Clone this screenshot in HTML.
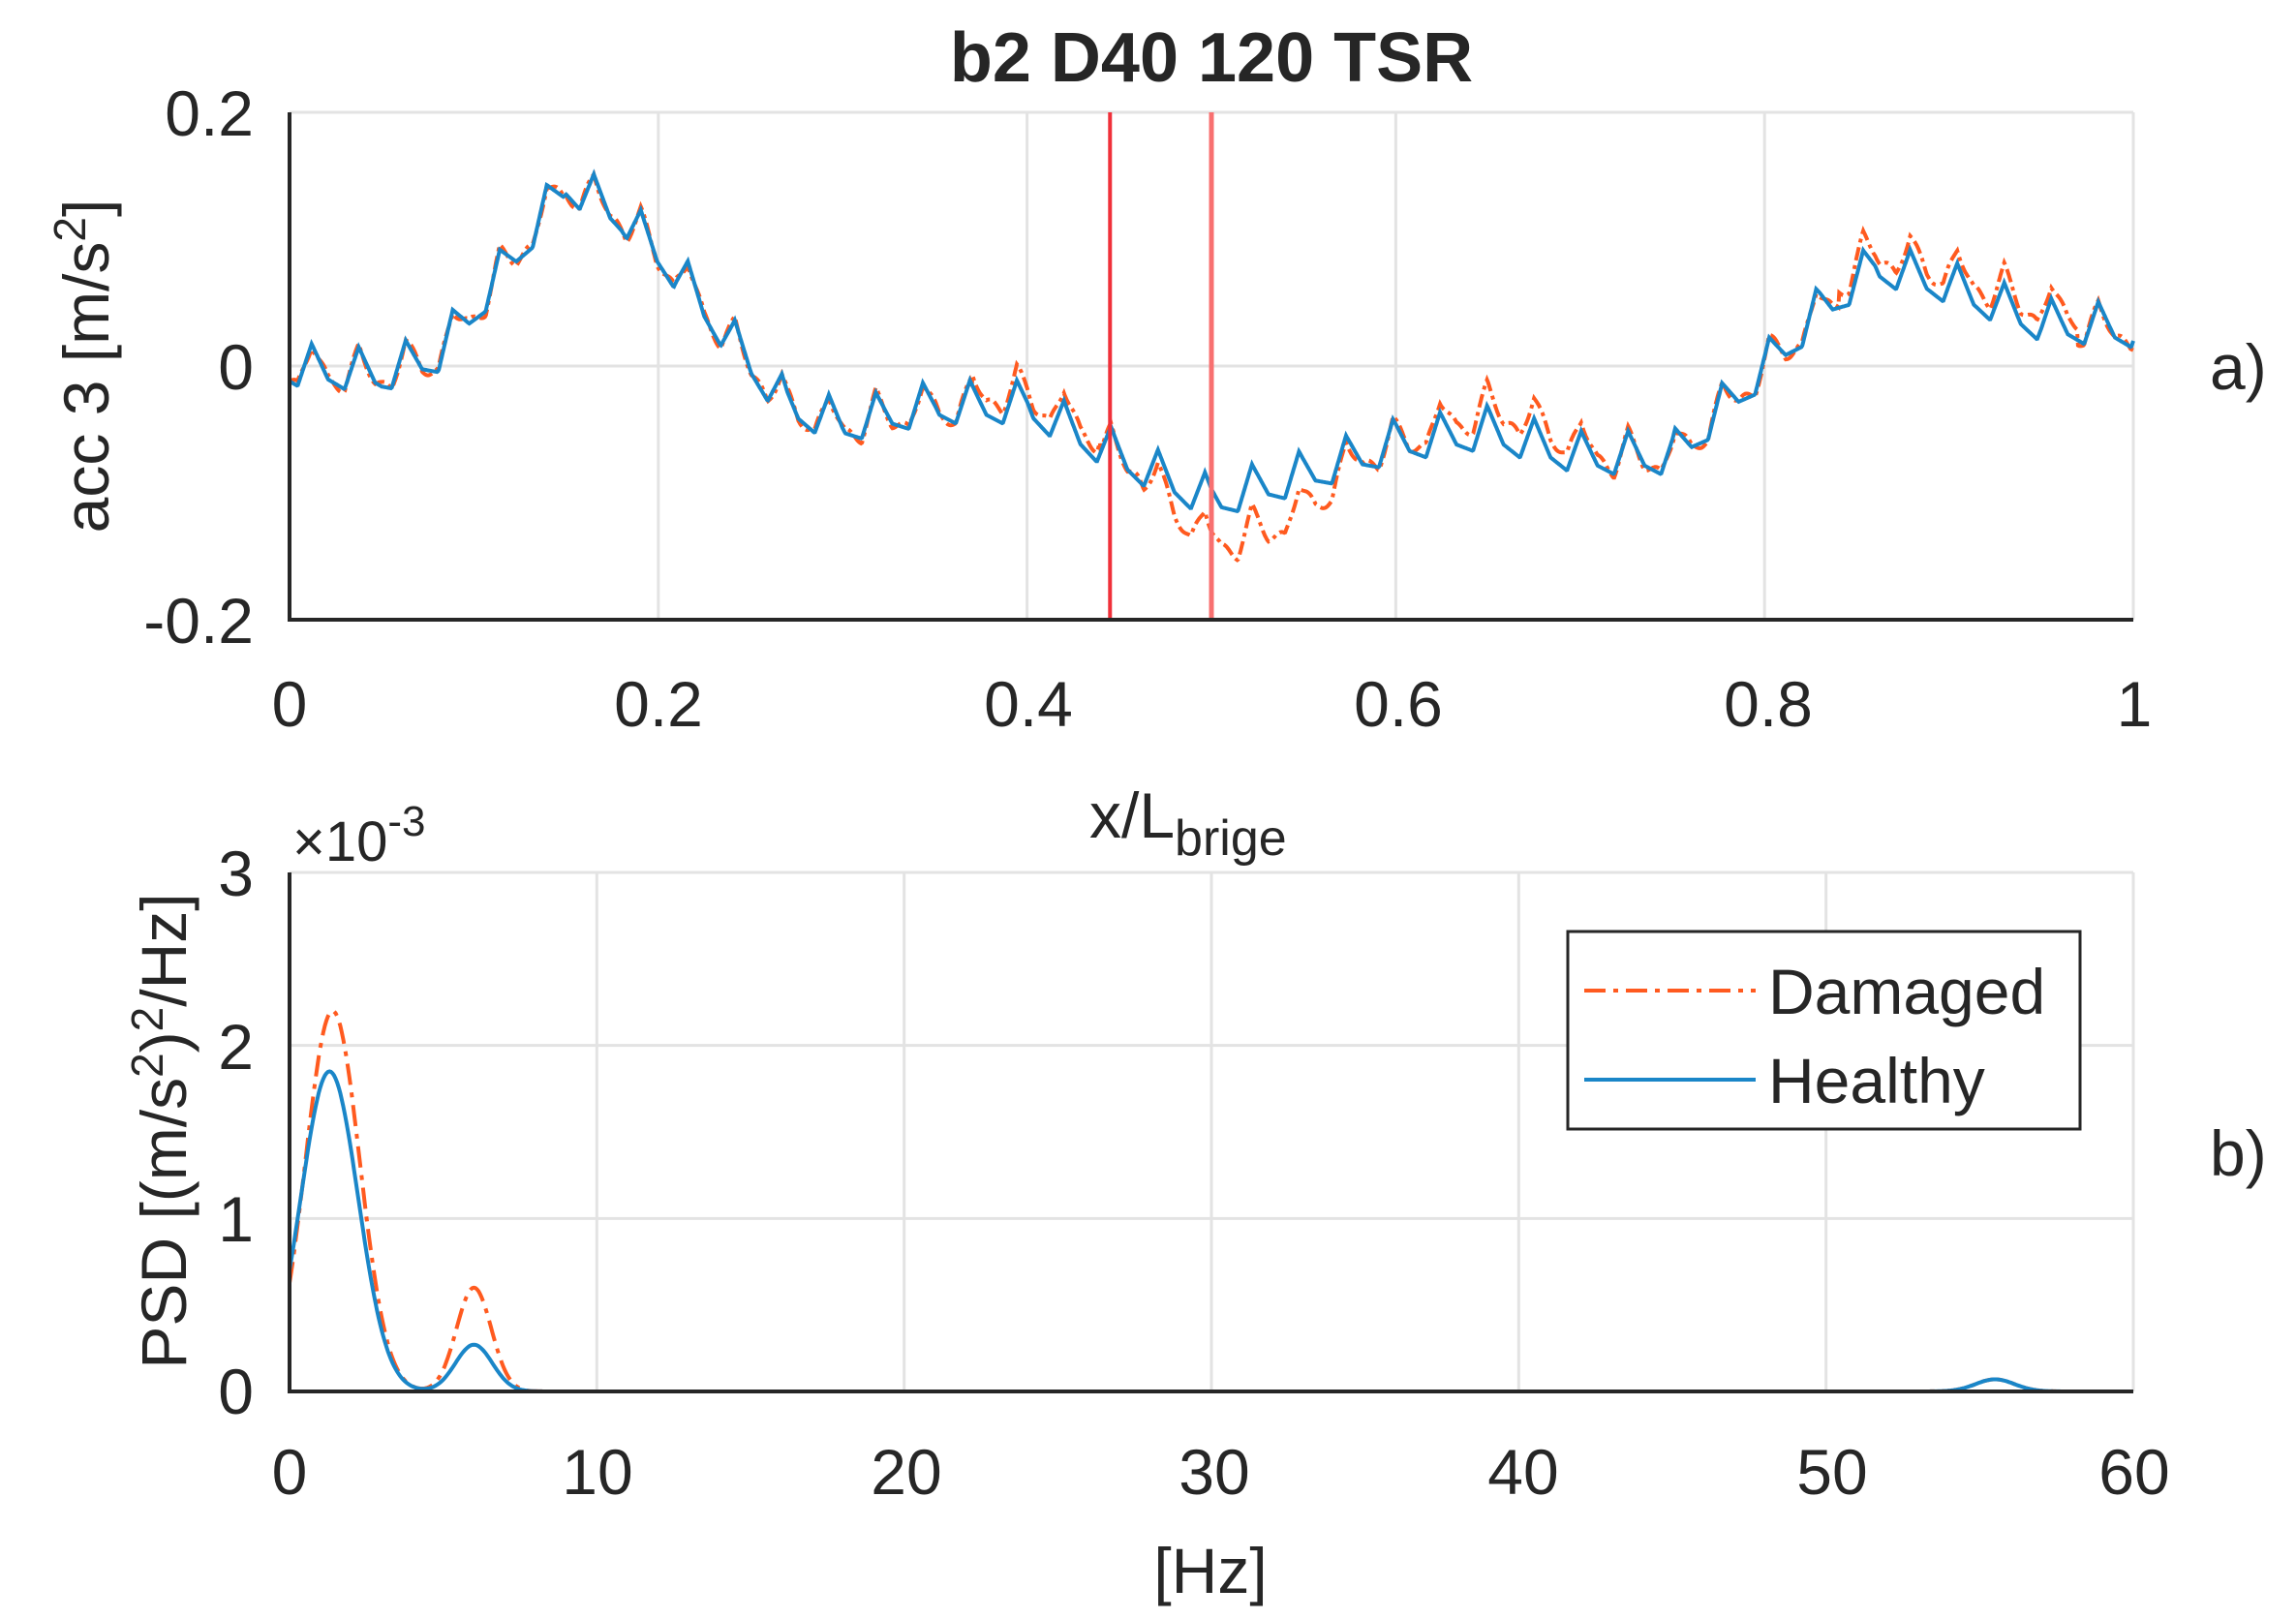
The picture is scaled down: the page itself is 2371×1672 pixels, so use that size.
<!DOCTYPE html>
<html><head><meta charset="utf-8"><style>
html,body{margin:0;padding:0;background:#fff;}
svg{display:block;}
text{font-family:"Liberation Sans",Arial,sans-serif;fill:#262626;}
</style></head><body>
<svg id="s" width="2371" height="1672" viewBox="0 0 2371 1672" xmlns="http://www.w3.org/2000/svg">
<rect width="2371" height="1672" fill="#fff"/>
<g id="grid" stroke="#e3e3e3" stroke-width="3" fill="none"></g>
<g id="series"></g>
<g id="axes" stroke="#262626" stroke-width="4" fill="none"></g>
<text x="1251" y="84" font-size="72" font-weight="bold" text-anchor="middle" fill="#000">b2 D40 120 TSR</text>
<g font-size="66" text-anchor="end">
<text x="262" y="140">0.2</text>
<text x="262" y="402">0</text>
<text x="262" y="664">-0.2</text>
<text x="262" y="925">3</text>
<text x="262" y="1104">2</text>
<text x="262" y="1282">1</text>
<text x="262" y="1460">0</text>
</g>
<g font-size="66" text-anchor="middle">
<text x="299" y="750">0</text>
<text x="680" y="750">0.2</text>
<text x="1062" y="750">0.4</text>
<text x="1444" y="750">0.6</text>
<text x="1826" y="750">0.8</text>
<text x="2204" y="750">1</text>
<text x="299" y="1543">0</text>
<text x="617" y="1543">10</text>
<text x="936" y="1543">20</text>
<text x="1254" y="1543">30</text>
<text x="1573" y="1543">40</text>
<text x="1892" y="1543">50</text>
<text x="2204" y="1543">60</text>
<text x="1250" y="1645">[Hz]</text>
</g>
<text x="1125" y="865" font-size="66">x/L<tspan font-size="52" dy="18">brige</tspan></text>
<text x="302" y="889" font-size="58" fill="#555">×10<tspan font-size="44" dy="-26">-3</tspan></text>
<text transform="translate(112,378) rotate(-90)" font-size="66" text-anchor="middle">acc 3 [m/s<tspan font-size="46" dy="-24">2</tspan><tspan dy="24">]</tspan></text>
<text transform="translate(192,1168) rotate(-90)" font-size="66" text-anchor="middle">PSD [(m/s<tspan font-size="46" dy="-24">2</tspan><tspan dy="24">)</tspan><tspan font-size="46" dy="-24">2</tspan><tspan dy="24">/Hz]</tspan></text>
<text x="2282" y="402" font-size="66">a)</text>
<text x="2282" y="1214" font-size="66">b)</text>
<g id="legend">
<rect x="1619" y="962" width="529" height="204" fill="#fff" stroke="#262626" stroke-width="3"/>
<line x1="1636" y1="1023" x2="1813" y2="1023" stroke="#ff5a1f" stroke-width="4" stroke-dasharray="22,8,5,8"/>
<line x1="1636" y1="1115" x2="1813" y2="1115" stroke="#1a86c8" stroke-width="4"/>
<text x="1826" y="1047" font-size="66">Damaged</text>
<text x="1826" y="1139" font-size="66">Healthy</text>
</g>
</svg>
<script>
const NS="http://www.w3.org/2000/svg";
function el(p,t,a){const e=document.createElementNS(NS,t);for(const k in a)e.setAttribute(k,a[k]);p.appendChild(e);return e;}
const L=299,R=2203,T1=116,B1=640,T2=901,B2=1437;
const grid=document.getElementById('grid'),axes=document.getElementById('axes'),ser=document.getElementById('series');
for(let i=1;i<=5;i++){const x=L+(R-L)*i/5;el(grid,'line',{x1:x,y1:T1,x2:x,y2:B1});}
el(grid,'line',{x1:L,y1:T1,x2:R,y2:T1});el(grid,'line',{x1:L,y1:378,x2:R,y2:378});
for(let i=1;i<=6;i++){const x=L+(R-L)*i/6;el(grid,'line',{x1:x,y1:T2,x2:x,y2:B2});}
for(let j=1;j<=3;j++){const y=B2-(B2-T2)*j/3;el(grid,'line',{x1:L,y1:y,x2:R,y2:y});}
el(axes,'polyline',{points:`${L},${T1} ${L},${B1} ${R},${B1}`});
el(axes,'polyline',{points:`${L},${T2} ${L},${B2} ${R},${B2}`});
const bp=[[0,0],[0.05,-0.005],[0.08,0.01],[0.11,0.065],[0.15,0.145],[0.18,0.12],[0.21,0.075],[0.24,0.02],[0.27,-0.03],[0.3,-0.045],[0.35,-0.03],[0.4,-0.03],[0.45,-0.07],[0.5,-0.105],[0.55,-0.085],[0.6,-0.06],[0.65,-0.05],[0.7,-0.07],[0.75,-0.07],[0.8,0.0],[0.83,0.045],[0.86,0.08],[0.9,0.065],[0.95,0.035],[1,0.03]];
function base(x){for(let i=0;i<bp.length-1;i++){if(x<=bp[i+1][0]){const t=(x-bp[i][0])/(bp[i+1][0]-bp[i][0]);return bp[i][1]+t*(bp[i+1][1]-bp[i][1]);}}return 0.03;}
function saw(x){const P=0.0255;let ph=((x-0.012)/P)%1;if(ph<0)ph+=1;let v;
 if(ph<0.35)v=1-ph/0.35*0.8; else if(ph<0.7)v=0.2-(ph-0.35)/0.35*0.2; else v=(ph-0.7)/0.3;
 return 0.034*(v-0.45);}
function dmg(x){let o=0;if(x>0.46&&x<0.58)o-=0.035*Math.sin(Math.PI*(x-0.46)/0.12);if(x>0.6&&x<0.72)o+=0.018*Math.sin(Math.PI*(x-0.6)/0.12);if(x>0.37&&x<0.44)o+=0.01;if(x>0.84&&x<0.97)o+=0.012;return o;}
function ty(v){return 378-v*(B1-T1)/0.4;}
let ph="",pd="";
for(let i=0;i<=2000;i++){const x=i/2000;const b=base(x)+saw(x);const X=(L+(R-L)*x).toFixed(1);ph+=(i?"L":"M")+X+","+ty(b).toFixed(1);pd+=(i?"L":"M")+X+","+ty(b+dmg(x)+0.004*Math.sin(x*400)).toFixed(1);}
el(ser,'path',{d:pd,stroke:'#ff5a1f','stroke-width':4,fill:'none','stroke-dasharray':'14,5,4,5'});
el(ser,'path',{d:ph,stroke:'#1a86c8','stroke-width':4,fill:'none'});
el(ser,'line',{x1:L+(R-L)*0.445,y1:T1,x2:L+(R-L)*0.445,y2:B1,stroke:'#f0303a','stroke-width':4});
el(ser,'line',{x1:L+(R-L)*0.5,y1:T1,x2:L+(R-L)*0.5,y2:B1,stroke:'#f87070','stroke-width':5});
function g(f,a,c,w){return a*Math.exp(-Math.pow((f-c)/w,2));}
function H(f){return g(f,1.85,1.3,1.32)+g(f,0.27,6,0.85)+g(f,0.07,55.5,0.9);}
function D(f){return g(f,2.2,1.4,1.25)+g(f,0.6,6,0.8)+g(f,0.07,55.5,0.9);}
function by(v){return B2-v*(B2-T2)/3;}
let qh="",qd="";
for(let i=0;i<=1200;i++){const f=i/20;const X=(L+(R-L)*f/60).toFixed(1);qh+=(i?"L":"M")+X+","+by(H(f)).toFixed(1);qd+=(i?"L":"M")+X+","+by(D(f)).toFixed(1);}
el(ser,'path',{d:qd,stroke:'#ff5a1f','stroke-width':4,fill:'none','stroke-dasharray':'22,8,5,8'});
el(ser,'path',{d:qh,stroke:'#1a86c8','stroke-width':4,fill:'none'});
</script>
</body></html>
